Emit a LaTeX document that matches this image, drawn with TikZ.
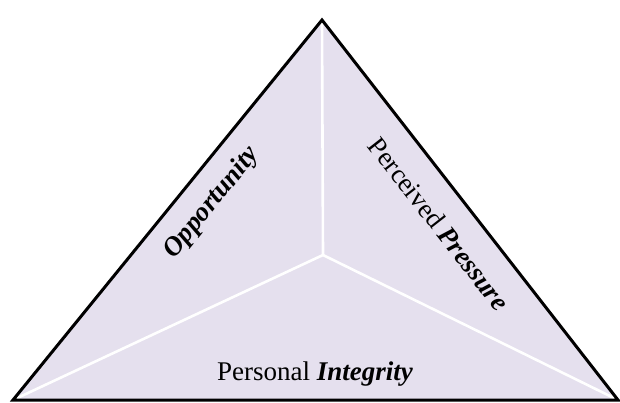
\documentclass[tikz,border=0pt]{standalone}
\usepackage{fontspec}
\setmainfont{Liberation Serif}
\definecolor{lav}{RGB}{229,224,238}
\begin{document}
\begin{tikzpicture}[x=1pt,y=-1pt,
  lbl/.style={font=\fontsize{27}{30}\selectfont, inner sep=0pt},
  divider/.style={white, line width=2.6pt},
  edge/.style={black, line width=3pt, line join=miter}]
\useasboundingbox (0,0) rectangle (620,403);
\coordinate (A) at (322,20);
\coordinate (L) at (13,400);
\coordinate (R) at (618,400);
\coordinate (C) at (323,255);
\fill[lav] (A) -- (L) -- (R) -- cycle;
\draw[divider] (C) -- (A);
\draw[divider] (C) -- (L);
\draw[divider] (C) -- (R);
\draw[edge] (L) -- (A) -- (R) -- cycle;
\node[lbl, rotate=51] (opp) at (212,203) {\textbf{\textit{Opportunity}}};
\node[lbl, rotate=-52] (pp) at (439,224) {Perceived \textbf{\textit{Pressure}}};
\node[lbl, anchor=base] (pi) at (315,380) {Personal \textbf{\textit{Integrity}}};
\end{tikzpicture}
\end{document}
